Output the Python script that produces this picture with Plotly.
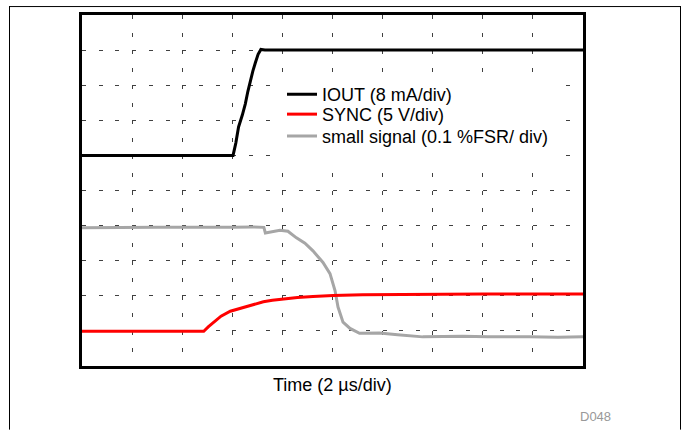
import plotly.graph_objects as go

# Time axis in microseconds (2 us/div, 10 divisions); signal values in divisions
iout_t = [0, 6.03, 6.14, 6.25, 6.40, 6.52, 6.62, 6.72, 6.82, 6.92, 7.03, 7.14, 7.30, 20]
iout_v = [6.0, 6.0, 6.35, 6.81, 7.15, 7.47, 7.82, 8.13, 8.40, 8.64, 8.88, 9.02, 9.0, 9.0]

sync_t = [0, 4.86, 5.05, 5.26, 5.55, 5.92, 6.25, 6.58, 6.9, 7.24, 7.6, 8.02, 8.6, 9.22, 10.02, 11.2, 12.68, 16.0, 20]
sync_v = [0.99, 0.99, 1.12, 1.25, 1.42, 1.56, 1.63, 1.70, 1.77, 1.83, 1.87, 1.91, 1.95, 1.98, 2.01, 2.03, 2.04, 2.05, 2.05]

sig_t = [0, 1.0, 2.0, 3.0, 4.0, 5.0, 6.0, 6.8, 7.26, 7.32, 7.6, 7.9, 8.22, 8.56, 8.9, 9.22, 9.62, 9.9,
         10.1, 10.22, 10.42, 10.7, 11.08, 11.88, 12.6, 13.6, 14.4, 15.2, 16.2, 17.0, 17.86, 19.0, 20]
sig_v = [3.94, 3.95, 3.94, 3.95, 3.95, 3.94, 3.95, 3.96, 3.95, 3.79, 3.82, 3.87, 3.84, 3.65, 3.50, 3.28, 2.95, 2.63,
         2.15, 1.68, 1.25, 1.07, 0.93, 0.94, 0.89, 0.83, 0.84, 0.85, 0.83, 0.84, 0.83, 0.82, 0.83]

names = ["IOUT (8 mA/div)", "SYNC (5 V/div)", "small signal (0.1 %FSR/ div)"]
colors = ["#000000", "#ff0000", "#a6a6a6"]

FONT = "Liberation Sans, Arial, sans-serif"

fig = go.Figure()
series = [(iout_t, iout_v), (sync_t, sync_v), (sig_t, sig_v)]
legend_ids = ["legend", "legend2", "legend3"]
traces = []
for i, ((t, v), n, c) in enumerate(zip(series, names, colors)):
    traces.append(go.Scatter(x=t, y=v, mode="lines", name=n, showlegend=True,
                             line=dict(color=c, width=3), legend=legend_ids[i]))
# gray drawn first, black on top
for tr in reversed(traces):
    fig.add_trace(tr)

L, R, T, B = 82, 100, 13, 64
W, H = 683, 430
pw, ph = W - L - R, H - T - B
XR, YR = 20.0, 10.0

def px_x(x):
    return (x - L) / pw

def px_y(y):
    return (H - B - y) / ph

legend_common = dict(font=dict(family=FONT, size=18, color="#000000"),
                     bgcolor="rgba(0,0,0,0)", borderwidth=0, visible=True,
                     xanchor="left", yanchor="middle", x=px_x(282))
row_y = [93, 113, 135]

fig.update_layout(
    width=W, height=H,
    margin=dict(l=L, r=R, t=T, b=B),
    paper_bgcolor="white", plot_bgcolor="white",
    showlegend=True,
    font=dict(family=FONT, size=18, color="#000000"),
    legend=dict(**legend_common, y=px_y(row_y[0])),
    legend2=dict(**legend_common, y=px_y(row_y[1])),
    legend3=dict(**legend_common, y=px_y(row_y[2])),
    xaxis=dict(range=[0, XR], dtick=2, showticklabels=False, ticks="",
               showgrid=True, gridcolor="#404040", gridwidth=1, griddash="4px,13.55px",
               showline=True, linecolor="black", linewidth=3, mirror=True, zeroline=False),
    yaxis=dict(range=[0, YR], dtick=1, showticklabels=False, ticks="",
               showgrid=True, gridcolor="#404040", gridwidth=1, griddash="4px,12.7px",
               showline=True, linecolor="black", linewidth=3, mirror=True, zeroline=False),
    annotations=[
        dict(text="Time (2 \u00b5s/div)", xref="paper", yref="paper", x=0.5, y=px_y(385),
             xanchor="center", yanchor="middle", showarrow=False,
             font=dict(family=FONT, size=18, color="#000000")),
        dict(text="D048", xref="paper", yref="paper", x=px_x(595), y=px_y(417),
             xanchor="center", yanchor="middle", showarrow=False,
             font=dict(family=FONT, size=13, color="#999999")),
    ],
    shapes=[
        # white legend background hiding the grid
        dict(type="rect", xref="x", yref="y", layer="between",
             x0=px_x(270) * XR, x1=px_x(566) * XR, y0=px_y(158) * YR, y1=px_y(72) * YR,
             fillcolor="white", line=dict(width=0)),
        dict(type="line", xref="paper", yref="paper", x0=px_x(9), x1=px_x(681), y0=px_y(4.5), y1=px_y(4.5),
             line=dict(color="black", width=1)),
        dict(type="line", xref="paper", yref="paper", x0=px_x(9.5), x1=px_x(9.5), y0=px_y(4), y1=px_y(430),
             line=dict(color="black", width=1)),
        dict(type="line", xref="paper", yref="paper", x0=px_x(680.5), x1=px_x(680.5), y0=px_y(4), y1=px_y(430),
             line=dict(color="black", width=1)),
    ],
)

fig.write_html("out.html", config={"displayModeBar": False},
               post_script="document.body.style.margin='0';document.body.style.overflow='hidden';")
